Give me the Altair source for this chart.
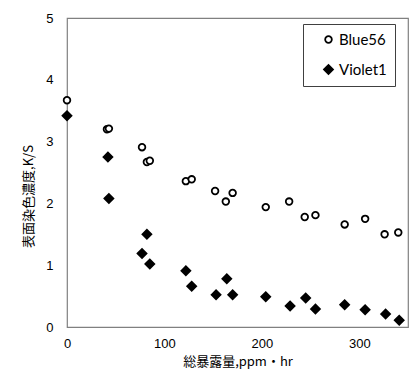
import altair as alt
import pandas as pd

exposure = [0, 41, 43, 77, 82, 85, 122, 128, 152, 163, 170, 204, 228, 244, 255, 285, 306, 326, 340]
blue56 = [3.67, 3.20, 3.21, 2.91, 2.67, 2.69, 2.36, 2.39, 2.20, 2.03, 2.17, 1.94, 2.03, 1.78, 1.81, 1.66, 1.75, 1.50, 1.53]
violet1_x = [0, 42, 43, 77, 82, 85, 122, 128, 153, 164, 170, 204, 229, 245, 255, 285, 306, 327, 341]
violet1 = [3.42, 2.75, 2.08, 1.19, 1.50, 1.02, 0.91, 0.66, 0.52, 0.78, 0.52, 0.49, 0.34, 0.47, 0.29, 0.36, 0.28, 0.21, 0.11]
series = ["Blue56", "Violet1"]

df = pd.concat([
    pd.DataFrame({"x": exposure, "y": blue56, "s": series[0]}),
    pd.DataFrame({"x": violet1_x, "y": violet1, "s": series[1]}),
])

def make_legend():
    return alt.Legend(
        title=None, orient="none", legendX=236, legendY=6,
        strokeColor="#404040", fillColor="white", padding=8,
        labelFont="Lato", labelFontSize=15, labelColor="black",
        rowPadding=13, symbolStrokeWidth=1.8, symbolOffset=10,
        labelOffset=3, labelExpr="datum.label + '\u00a0\u00a0\u00a0\u00a0\u00a0'",
    )

chart = alt.Chart(df).mark_point(strokeWidth=1.8, opacity=1, clip=False).encode(
    x=alt.X("x:Q", scale=alt.Scale(domain=[0, 350], nice=False),
            axis=alt.Axis(title="総暴露量,ppm・hr", values=[0, 100, 200, 300], ticks=False,
                          domain=False, grid=False, labelFont="Liberation Sans", labelFontSize=13,
                          labelColor="black", labelPadding=10, titleFont="Noto Sans CJK JP",
                          titleFontSize=13, titleFontWeight="normal", titleColor="black",
                          titlePadding=5, labelFlush=False)),
    y=alt.Y("y:Q", scale=alt.Scale(domain=[0, 5], nice=False),
            axis=alt.Axis(title="表面染色濃度,K/S", values=[0, 1, 2, 3, 4, 5], ticks=False,
                          domain=False, grid=False, labelFont="Liberation Sans", labelFontSize=13,
                          labelColor="black", labelPadding=14, titleFont="Noto Sans CJK JP",
                          titleFontSize=13, titleFontWeight="normal", titleColor="black",
                          titlePadding=10, titleY=178)),
    shape=alt.Shape("s:N", scale=alt.Scale(domain=series, range=["circle", "diamond"]), legend=make_legend()),
    fill=alt.Fill("s:N", scale=alt.Scale(domain=series, range=["white", "black"]), legend=make_legend()),
    stroke=alt.Stroke("s:N", scale=alt.Scale(domain=series, range=["black", "black"]), legend=make_legend()),
    size=alt.Size("s:N", scale=alt.Scale(domain=series, range=[44, 80]), legend=make_legend()),
).properties(
    width=341, height=309,
    autosize=alt.AutoSizeParams(type="none"),
    padding={"left": 59, "top": 10, "right": 2, "bottom": 48},
).configure_view(stroke="#808080", strokeWidth=1.2)

chart.save("out.html", embed_options={"renderer": "svg", "actions": False})
